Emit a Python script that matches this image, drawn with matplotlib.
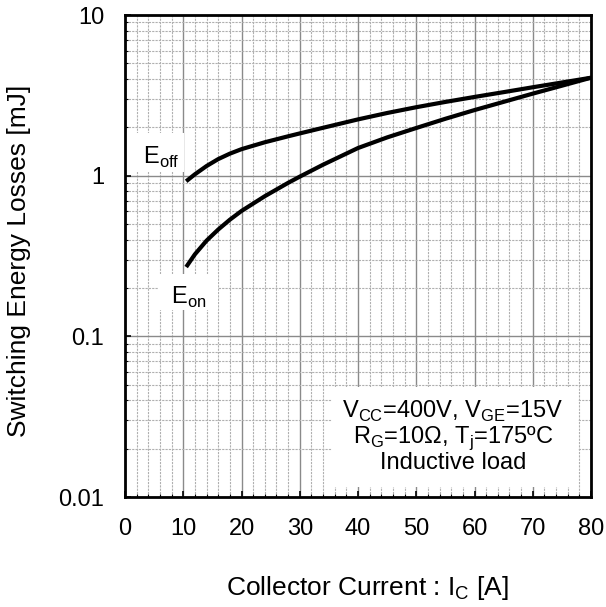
import matplotlib
matplotlib.use('Agg')
import matplotlib.pyplot as plt
from matplotlib.patches import Rectangle
from matplotlib.ticker import MultipleLocator, LogLocator, FixedLocator, NullFormatter

plt.rcParams['font.family'] = ['Liberation Sans', 'DejaVu Sans']

ic_off = [10.5, 12, 14, 16, 18, 20, 24, 28, 30, 34, 40, 45, 50, 55, 60, 65, 70, 75, 80]
e_off = [0.923, 1.02, 1.148, 1.268, 1.371, 1.462, 1.614, 1.758, 1.832, 1.986,
         2.24, 2.455, 2.667, 2.877, 3.09, 3.31, 3.55, 3.80, 4.07]
ic_on = [10.5, 12, 14, 16, 18, 20, 24, 28, 30, 34, 40, 45, 50, 55, 60, 65, 70, 75, 80]
e_on = [0.270, 0.324, 0.394, 0.462, 0.532, 0.603, 0.745, 0.902, 0.986, 1.17,
        1.486, 1.73, 1.98, 2.26, 2.56, 2.88, 3.24, 3.63, 4.07]

x_ticks = [0, 10, 20, 30, 40, 50, 60, 70, 80]
y_ticks = [0.01, 0.1, 1, 10]
y_labels = ['0.01', '0.1', '1', '10']

fig = plt.figure(figsize=(6.06, 6.07), dpi=100)
ax = fig.add_axes([125/606, 1 - 497/607, 466/606, 482/607])

ax.set_yscale('log')
ax.set_xlim(0, 80)
ax.set_ylim(0.01, 10)

ax.xaxis.set_major_locator(FixedLocator(x_ticks))
ax.xaxis.set_minor_locator(MultipleLocator(2))
ax.yaxis.set_major_locator(FixedLocator(y_ticks))
ax.set_yticklabels(y_labels)
ax.yaxis.set_minor_locator(LogLocator(base=10, subs=range(2, 10)))
ax.yaxis.set_minor_formatter(NullFormatter())

ax.grid(True, which='major', color='#8a8a8a', linewidth=1.0, linestyle='-')
ax.grid(True, which='minor', color='#b0b0b0', linewidth=0.8, linestyle=(0, (2, 1)))
ax.set_axisbelow(True)

ax.tick_params(which='major', direction='in', length=4, width=1.2, labelsize=17, pad=15,
               top=False, right=False)
ax.tick_params(which='minor', direction='in', length=2.5, width=0.8, top=False, right=False)
for s in ax.spines.values():
    s.set_linewidth(2)
    s.set_zorder(5)

# white patches behind the labels (grid hidden there)
for (x0, y0, w, h) in [(0, 0.674, 0.127, 0.081), (0.071, 0.389, 0.129, 0.073),
                       (0.444, 0.021, 0.528, 0.207)]:
    ax.add_patch(Rectangle((x0, y0), w, h, transform=ax.transAxes,
                           facecolor='white', edgecolor='none', zorder=1.5))

ax.plot(ic_off, e_off, color='black', linewidth=3, solid_capstyle='butt',
        solid_joinstyle='round', zorder=3)
ax.plot(ic_on, e_on, color='black', linewidth=3, solid_capstyle='butt',
        solid_joinstyle='round', zorder=3)

ax.text(6.2, 1.30, r'E$_{\mathregular{off}}$', fontsize=17, ha='center', va='center', zorder=4)
ax.text(11.0, 0.174, r'E$_{\mathregular{on}}$', fontsize=17, ha='center', va='center', zorder=4)
ax.text(56.3, 0.0238,
        'V$_{\\mathregular{CC}}$=400V, V$_{\\mathregular{GE}}$=15V\n'
        'R$_{\\mathregular{G}}$=10\u03a9, T$_{\\mathregular{j}}$=175\u00baC\n'
        'Inductive load',
        fontsize=17, ha='center', va='center', linespacing=1.0, zorder=4)

fig.text(367/606, 1 - 588/607, 'Collector Current : I$_{\\mathregular{C}}$ [A]',
         fontsize=19, ha='center', va='center')
fig.text(19/606, 1 - 261/607, 'Switching Energy Losses [mJ]',
         fontsize=19, ha='center', va='center', rotation=90)

fig.savefig('out.png', dpi=100)
